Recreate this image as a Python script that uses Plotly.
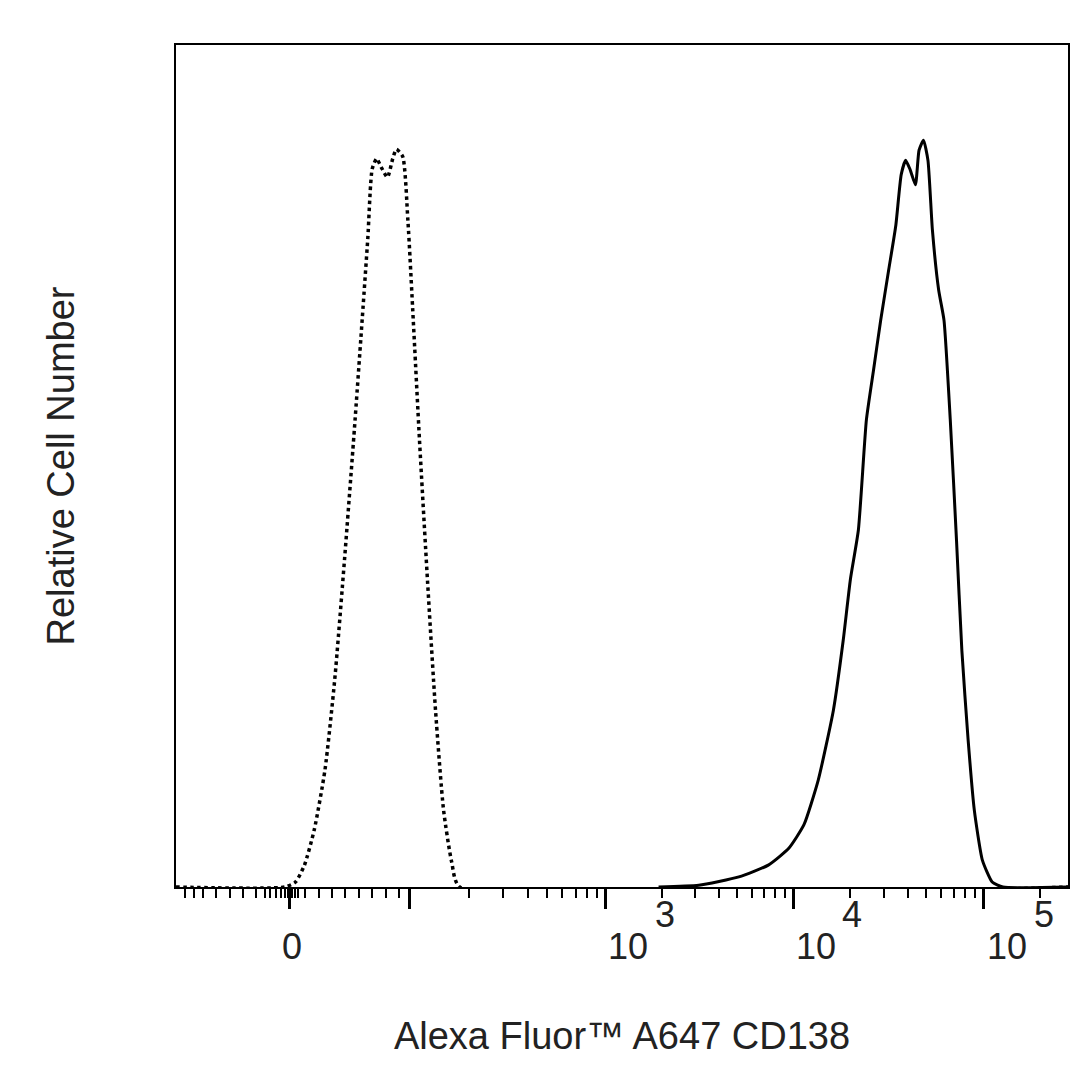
import numpy as np
import plotly.graph_objects as go

# channel units (0-1000 display scale), y in % of max scale
solid_x = [541,586,631,664,687,704,720,737,748,756,765,774,782,790,799,807,813,818,823,829,833,838,843,848,855,861,868,875,881,888,895,904,915,927,1000]
solid_y = [0,0.2,1.2,2.6,4.6,7.4,12.7,21.0,29.3,36.5,42.4,55.5,61.4,67.3,73.3,78.6,84.6,86.3,85.2,83.4,87.5,88.7,86.3,78.0,70.9,67.3,55.5,41.2,28.1,17.5,9.1,3.2,0.6,0,0]
dot_x = [0,122,134,144,155,167,178,189,200,208,215,220,225,230,237,243,247,254,260,266,273,282,291,300,309,318,1000]
dot_y = [0,0,0.6,2.6,6.8,13.9,24.7,39.0,54.4,66.3,77.0,85.3,86.5,85.5,84.3,86.5,87.6,86.8,79.1,67.3,53.0,36.3,20.9,9.1,3.0,0,0]

major_ticks = [127.5, 262, 482, 692, 905]
base_labels = ["0", "10", "10", "10"]
base_pos = [130, 507, 718, 932]
exp_labels = ["3", "4", "5"]
exp_pos = [548, 758, 973]
low_minor = [10,20,30,45,60,75,90,100,105,112,118,122,125,130,133,137,145,160,175,190,205,220,235,250]

minor = list(low_minor)
for start, width in [(262, 220), (482, 210), (692, 213)]:
    for k in range(2, 10):
        minor.append(start + width * np.log10(k))
for k in range(2, 7):
    minor.append(905 + 213 * np.log10(k))

F = "Liberation Sans, Arial"
fig = go.Figure()
fig.add_trace(go.Scatter(x=dot_x, y=dot_y, mode="lines", line=dict(color="black", width=3.5, dash="dot", shape="spline", smoothing=0.6)))
fig.add_trace(go.Scatter(x=solid_x, y=solid_y, mode="lines", line=dict(color="black", width=3, shape="spline", smoothing=0.5)))

for txt, p in zip(base_labels, base_pos):
    fig.add_annotation(x=p, y=0, xref="x", yref="paper", text=txt, showarrow=False, yshift=-82,
                       font=dict(family=F, size=36, color="#222"))
for txt, p in zip(exp_labels, exp_pos):
    fig.add_annotation(x=p, y=0, xref="x", yref="paper", text=txt, showarrow=False, yshift=-50,
                       font=dict(family=F, size=36, color="#222"))

fig.update_layout(
    width=1070, height=1070, showlegend=False,
    plot_bgcolor="white", paper_bgcolor="white",
    margin=dict(l=168, r=8, t=37, b=191),
    xaxis=dict(range=[0, 1000], showgrid=False, zeroline=False, showline=True, linecolor="black", linewidth=2, mirror=True,
               tickmode="array", tickvals=major_ticks, ticktext=[""]*5, ticks="outside", ticklen=20, tickwidth=3, tickcolor="black",
               minor=dict(tickmode="array", tickvals=minor, ticks="outside", ticklen=9, tickwidth=2, tickcolor="black"),
               title=dict(text="Alexa Fluor™ A647 CD138", font=dict(family=F, size=38, color="#222"), standoff=112)),
    yaxis=dict(range=[0, 100], showgrid=False, zeroline=False, showline=True, linecolor="black", linewidth=2, mirror=True,
               showticklabels=False, ticks="",
               title=dict(text="Relative Cell Number", font=dict(family=F, size=38, color="#222"), standoff=88)),
)
fig.write_html("out.html")
